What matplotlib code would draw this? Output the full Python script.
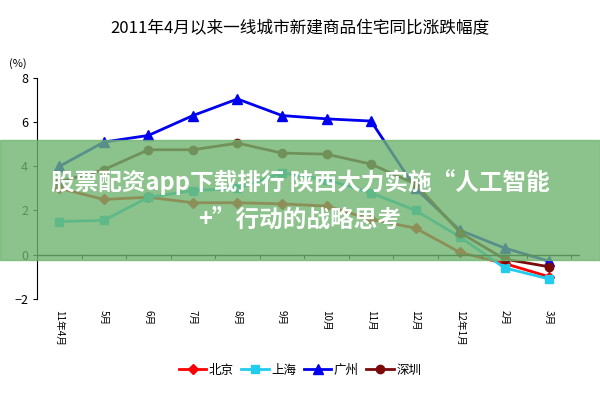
import matplotlib
matplotlib.use("Agg")
import matplotlib.pyplot as plt
import numpy as np

plt.rcParams['font.family'] = ['Noto Sans CJK SC', 'DejaVu Sans']

months = ["11年4月","5月","6月","7月","8月","9月","10月","11月","12月","12年1月","2月","3月"]
beijing = [3.0, 2.5, 2.6, 2.35, 2.35, 2.3, 2.2, 1.6, 1.2, 0.1, -0.4, -1.0]
shanghai = [1.5, 1.55, 2.6, 2.9, 3.0, 3.7, 3.4, 2.8, 2.0, 0.8, -0.6, -1.1]
guangzhou = [4.0, 5.1, 5.4, 6.3, 7.05, 6.3, 6.15, 6.05, 3.0, 1.1, 0.3, -0.3]
shenzhen = [3.3, 3.85, 4.75, 4.75, 5.05, 4.6, 4.55, 4.1, 3.2, 1.0, -0.2, -0.55]

fig = plt.figure(figsize=(6, 4), dpi=100)
ax = fig.add_axes([0.062, 0.253, 0.905, 0.552])
x = np.arange(len(months))
ax.plot(x, beijing, color='#ff0000', marker='D', ms=5, lw=2, label='北京')
ax.plot(x, shanghai, color='#22ccee', marker='s', ms=6, lw=2, label='上海')
ax.plot(x, guangzhou, color='#0000ee', marker='^', ms=7, lw=2, label='广州')
ax.plot(x, shenzhen, color='#7a0a0a', marker='o', ms=6, lw=2, label='深圳')

ax.set_xlim(-0.5, len(months) - 0.3)
ax.set_ylim(-2, 8)
ax.set_yticks([-2, 0, 2, 4, 6, 8])
ax.tick_params(axis='y', labelsize=9, length=3)
for s in ['top', 'right', 'bottom']:
    ax.spines[s].set_visible(False)
ax.axhline(0, color='black', lw=1)
for xi in np.arange(-0.5, len(months), 1.0):
    ax.plot([xi, xi], [0, -0.15], color='black', lw=0.8)
ax.set_xticks(x)
ax.set_xticklabels(months, rotation=270, fontsize=7)
ax.tick_params(axis='x', length=0, pad=8)
ax.text(-0.02, 1.05, '(%)', transform=ax.transAxes, fontsize=8, ha='right')
fig.suptitle('2011年4月以来一线城市新建商品住宅同比涨跌幅度', y=0.95, fontsize=12)
fig.legend(loc='lower center', bbox_to_anchor=(0.5, 0.03), ncol=4, frameon=False,
           fontsize=9, handlelength=2.2, columnspacing=0.6, handletextpad=0.2)

band = plt.Rectangle((0, 0.35), 1, 0.3, transform=fig.transFigure, color='#6fb46f', alpha=0.8, zorder=10)
fig.patches.append(band)
fig.text(0.5, 0.545, '股票配资app下载排行 陕西大力实施“人工智能', ha='center', va='center',
         fontsize=17, color='white', fontweight='bold', zorder=11)
fig.text(0.5, 0.45, '+”行动的战略思考', ha='center', va='center',
         fontsize=17, color='white', fontweight='bold', zorder=11)
fig.savefig('out.png', dpi=100)
